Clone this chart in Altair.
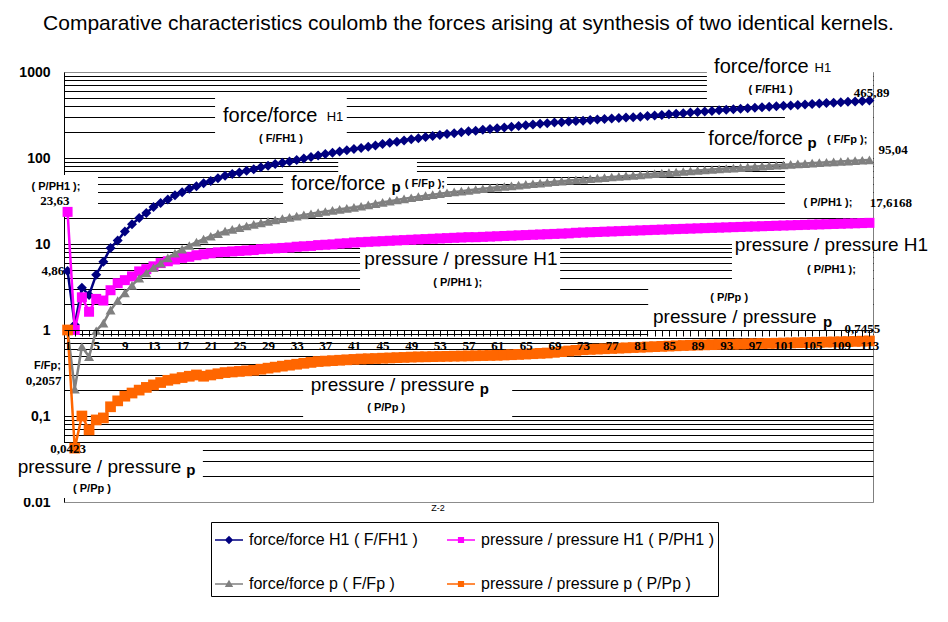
import altair as alt
import pandas as pd

# ---------------- data ----------------
z = list(range(1, 114))  # Z-2

f_fh1 = [4.86, 1.15, 3.1, 2.55, 4.4, 6.2, 9.0, 11, 14, 17,
         20, 23, 27, 30, 33, 37, 40, 44, 47, 51,
         54, 58, 62, 65, 68, 71, 74, 78, 81, 85,
         88, 91, 95, 99, 103, 107, 111, 115, 119, 123,
         127, 131, 135, 140, 145, 150, 155, 160, 165, 170,
         175, 180, 185, 190, 194, 199, 204, 208, 213, 218,
         222, 227, 231, 236, 241, 245, 250, 254, 258, 261,
         265, 269, 272, 276, 280, 284, 287, 291, 295, 298,
         302, 307, 312, 317, 322, 327, 332, 338, 343, 348,
         353, 358, 363, 368, 373, 378, 384, 389, 394, 399,
         404, 409, 414, 419, 425, 430, 435, 440, 445, 450,
         455, 460, 465.89]

p_ph1 = [23.63, 1.0, 2.4, 1.63, 2.3, 2.2, 2.9, 3.5, 3.8, 4.2,
         4.8, 5.1, 5.5, 6.0, 6.3, 6.6, 6.9, 7.1, 7.4, 7.6,
         7.8, 8.0, 8.1, 8.2, 8.3, 8.4, 8.5, 8.7, 8.8, 8.9,
         9.0, 9.1, 9.3, 9.4, 9.5, 9.7, 9.8, 9.9, 10.1, 10.2,
         10.4, 10.5, 10.6, 10.7, 10.8, 10.9, 11.0, 11.1, 11.2, 11.3,
         11.4, 11.5, 11.6, 11.7, 11.8, 11.9, 12.0, 12.0, 12.1, 12.2,
         12.3, 12.4, 12.5, 12.6, 12.7, 12.8, 12.9, 13.0, 13.1, 13.2,
         13.3, 13.5, 13.6, 13.7, 13.8, 13.9, 14.0, 14.1, 14.2, 14.3,
         14.4, 14.5, 14.6, 14.7, 14.8, 14.9, 15.0, 15.1, 15.2, 15.3,
         15.4, 15.5, 15.6, 15.7, 15.8, 15.9, 16.0, 16.1, 16.2, 16.3,
         16.4, 16.5, 16.6, 16.7, 16.8, 16.9, 17.0, 17.1, 17.2, 17.3,
         17.4, 17.5, 17.6168]

f_fp = [1.0, 0.2057, 0.64, 0.49, 0.98, 1.2, 1.7, 2.2, 2.7, 3.3,
        4.0, 4.6, 5.3, 6.0, 6.9, 7.8, 8.7, 9.6, 10.5, 11.4,
        12.3, 13.2, 14.1, 14.8, 15.5, 16.2, 16.9, 17.6, 18.3, 19.0,
        19.7, 20.4, 21.1, 21.8, 22.5, 23.2, 23.9, 24.6, 25.3, 26.0,
        26.7, 27.5, 28.5, 29.5, 30.5, 31.5, 32.5, 33.5, 34.5, 35.5,
        36.5, 37.5, 38.5, 39.4, 40.3, 41.2, 42.1, 43.0, 43.9, 44.8,
        45.7, 46.6, 47.5, 48.4, 49.3, 50.2, 51.1, 52.0, 52.9, 53.8,
        54.7, 55.6, 56.5, 57.4, 58.3, 59.2, 60.1, 61.0, 61.9, 62.8,
        63.7, 64.7, 65.7, 66.6, 67.6, 68.6, 69.6, 70.6, 71.5, 72.5,
        73.5, 74.5, 75.5, 76.4, 77.4, 78.4, 79.4, 80.4, 81.3, 82.3,
        83.3, 84.3, 85.3, 86.2, 87.2, 88.2, 89.2, 90.2, 91.1, 92.1,
        93.1, 94.1, 95.04]

p_pp = [1.0, 0.0423, 0.10, 0.069, 0.09, 0.095, 0.128, 0.15, 0.17, 0.185,
        0.20, 0.215, 0.23, 0.245, 0.26, 0.27, 0.28, 0.29, 0.30, 0.29,
        0.30, 0.31, 0.32, 0.325, 0.33, 0.335, 0.34, 0.35, 0.36, 0.37,
        0.38, 0.39, 0.40, 0.41, 0.42, 0.43, 0.435, 0.44, 0.445, 0.45,
        0.455, 0.46, 0.463, 0.466, 0.47, 0.473, 0.477, 0.48, 0.484, 0.487,
        0.488, 0.49, 0.492, 0.494, 0.496, 0.498, 0.50, 0.502, 0.504, 0.506,
        0.508, 0.512, 0.516, 0.52, 0.525, 0.53, 0.535, 0.54, 0.55, 0.56,
        0.57, 0.58, 0.59, 0.595, 0.60, 0.605, 0.61, 0.615, 0.62, 0.625,
        0.63, 0.635, 0.64, 0.645, 0.65, 0.655, 0.66, 0.664, 0.668, 0.672,
        0.675, 0.678, 0.681, 0.684, 0.687, 0.69, 0.693, 0.696, 0.699, 0.702,
        0.705, 0.708, 0.711, 0.714, 0.717, 0.72, 0.723, 0.726, 0.729, 0.733,
        0.737, 0.741, 0.7455]

series_names = ["force/force H1 ( F/FH1 )",
                "pressure / pressure H1 ( P/PH1 )",
                "force/force p ( F/Fp )",
                "pressure / pressure p ( P/Pp )"]
series_values = [f_fh1, p_ph1, f_fp, p_pp]
series_colors = ["#000080", "#FF00FF", "#808080", "#FF6600"]
series_shapes = ["diamond", "square", "triangle-up", "square"]
series_sizes = [100, 100, 100, 115]

y_decade_labels = ["0.01", "0,1", "1", "10", "100", "1000"]
x_label_every = 4

title_text = "Comparative characteristics coulomb the forces arising at synthesis of two identical kernels."

# annotation texts (data coordinates: Z-2 position, value)
ann_force_txt = ["force/force", "force/force", "force/force", "force/force"]
ann_force_x = [97.9, 97.1, 29.3, 38.8]
ann_force_y = [1153, 165, 308, 49.9]

ann_press_txt = ["pressure / pressure H1", "pressure / pressure H1",
                 "pressure / pressure", "pressure / pressure", "pressure / pressure"]
ann_press_x = [107.7, 55.95, 94.2, 46.4, 5.46]
ann_press_y = [9.73, 6.69, 1.416, 0.229, 0.0255]

ann_h1_txt = ["H1", "H1"]
ann_h1_x = [106.5, 38.35]
ann_h1_y = [1113, 300]

ann_p_txt = ["p", "p", "p", "p", "p"]
ann_p_x = [105.0, 46.9, 107.15, 59.2, 18.2]
ann_p_y = [149, 46.0, 1.239, 0.206, 0.0236]

ann_small_txt = ["( F/FH1 )", "( F/FH1 )", "( F/Fp );", "( F/Fp );",
                 "( P/PH1 );", "( P/PH1 );", "( P/PH1 );", "( P/PH1 );",
                 "( P/Pp )", "( P/Pp )", "( P/Pp )", "F/Fp;"]
ann_small_x = [99.2, 30.8, 109.9, 50.9, -0.62, 107.2, 107.7, 55.5, 93.4, 45.5, 4.41, -1.8]
ann_small_y = [618, 166, 162, 49.9, 46.4, 29.7, 4.99, 3.52, 2.36, 0.125, 0.0143, 0.381]

ann_num_txt = ["465,89", "95,04", "17,6168", "23,63", "4,86", "0,2057", "0,0423", "0,7455"]
ann_num_x = [113.3, 116.3, 116.0, -0.76, -1.04, -2.36, 1.06, 112.0]
ann_num_y = [574, 124, 29.7, 31.9, 4.89, 0.257, 0.0415, 1.027]

axis_title_txt = ["Z-2"]
axis_title_x = [52.74]
axis_title_y = [0.00851]

# white label boxes that hide the grid behind the annotations
box_x = [90.3, 101.2, 90.0, 21.6, 38.8, 31.1, -0.76, 41.85, 93.8, 82.1, 33.9, -7.0]
box_x2 = [113.5, 113.5, 101.2, 40.0, 49.8, 54.0, 5.25, 69.8, 113.5, 113.5, 63.1, 19.9]
box_y = [1577, 472, 242, 499, 97.3, 61.7, 63.4, 9.4, 12.7, 3.6, 0.284, 0.0485]
box_y2 = [472, 21.7, 117, 131, 61.7, 28.4, 21.7, 2.77, 2.92, 0.82, 0.0948, 0.0111]

# ---------------- tables ----------------
rows = []
for name, vals in zip(series_names, series_values):
    for zi, v in zip(z, vals):
        rows.append({"z": zi, "v": v, "series": name})
df = pd.DataFrame(rows)

boxes = pd.DataFrame({"x": box_x, "x2": box_x2, "y": box_y, "y2": box_y2})


def ann(txt, xs_, ys_):
    return pd.DataFrame({"t": txt, "x": xs_, "y": ys_})


# ---------------- scales & axes ----------------
W, H = 809, 430
grid_vals = []
for e in range(-2, 3):
    for m in range(1, 10):
        grid_vals.append(round(m * 10 ** e, 6))
grid_vals.append(1000)

ylab_expr = ("datum.value == 1000 ? '%s' : datum.value == 100 ? '%s' : datum.value == 10 ? '%s' : "
             "datum.value == 1 ? '%s' : abs(datum.value - 0.1) < 1e-9 ? '%s' : "
             "abs(datum.value - 0.01) < 1e-9 ? '%s' : ''") % (
    y_decade_labels[5], y_decade_labels[4], y_decade_labels[3],
    y_decade_labels[2], y_decade_labels[1], y_decade_labels[0])

xs = alt.Scale(domain=[0.5, 113.5], nice=False, zero=False)
ys = alt.Scale(type="log", domain=[0.01, 1000], nice=False)
cs = alt.Scale(domain=series_names, range=series_colors)

x_axis = alt.Axis(values=z, labelExpr="(datum.value - 1) %% %d == 0 ? datum.label : ''" % x_label_every,
                  labelOverlap=False, labelFlush=False, labelFont="Liberation Serif",
                  labelFontWeight="bold", labelFontSize=13, labelColor="black", labelPadding=3,
                  tickSize=6, tickColor="black", domainColor="black", domainWidth=1,
                  grid=False, title=None, offset=-H * 2 / 5, zindex=1)
y_axis = alt.Axis(values=grid_vals, labelExpr=ylab_expr, grid=True,
                  gridColor={"condition": {"test": "datum.value >= 999 || datum.value <= 0.0101",
                                           "value": "#8c8c8c"}, "value": "black"},
                  gridWidth=1, gridOpacity=1, ticks=False, domainColor="black",
                  labelFont="Liberation Sans", labelFontWeight="bold", labelFontSize=14,
                  labelColor="black", labelPadding=14, labelOverlap=False, title=None)

X = alt.X("x:Q", scale=xs, axis=x_axis)
Y = alt.Y("y:Q", scale=ys, axis=y_axis)

layers = []

layers.append(alt.Chart(boxes).mark_rect(color="white", strokeWidth=0).encode(
    x=X, x2="x2:Q", y=Y, y2="y2:Q"))

for name, color, shape, size in zip(series_names, series_colors, series_shapes, series_sizes):
    base = alt.Chart(df).transform_filter(alt.datum.series == name)
    enc = dict(x=alt.X("z:Q", scale=xs, axis=x_axis), y=alt.Y("v:Q", scale=ys, axis=y_axis))
    layers.append(base.mark_line(strokeWidth=2.5, color=color).encode(**enc))
    layers.append(base.mark_point(shape=shape, size=size, filled=True, opacity=1,
                                  color=color).encode(**enc))

text_styles = [
    (ann(ann_force_txt, ann_force_x, ann_force_y), "Liberation Sans", 20, "normal"),
    (ann(ann_press_txt, ann_press_x, ann_press_y), "Liberation Sans", 19, "normal"),
    (ann(ann_h1_txt, ann_h1_x, ann_h1_y), "Liberation Sans", 13, "normal"),
    (ann(ann_p_txt, ann_p_x, ann_p_y), "Liberation Sans", 15, "bold"),
    (ann(ann_small_txt, ann_small_x, ann_small_y), "Liberation Sans", 11, "bold"),
    (ann(ann_num_txt, ann_num_x, ann_num_y), "Liberation Serif", 13, "bold"),
    (ann(axis_title_txt, axis_title_x, axis_title_y), "Liberation Sans", 9, "normal"),
]
for tdf, font, fsize, fweight in text_styles:
    layers.append(alt.Chart(tdf).mark_text(font=font, fontSize=fsize, fontWeight=fweight,
                                           align="center", baseline="middle", color="black").encode(
        x=X, y=Y, text="t:N"))

# legend-only layer (invisible points) carrying line+marker legend symbols
line_path = "M-1,-0.06L1,-0.06L1,0.06L-1,0.06Z"
legend_paths = [line_path + "M0,-0.3L0.3,0L0,0.3L-0.3,0Z",
                line_path + "M-0.22,-0.22L0.22,-0.22L0.22,0.22L-0.22,0.22Z",
                line_path + "M0,-0.3L0.3,0.22L-0.3,0.22Z",
                line_path + "M-0.22,-0.22L0.22,-0.22L0.22,0.22L-0.22,0.22Z"]
leg = alt.Legend(title=None, orient="none", legendX=147, legendY=450, columns=2,
                 direction="horizontal",
                 labelFont="Liberation Sans", labelFontSize=16, labelColor="black", labelLimit=400,
                 symbolSize=784, symbolStrokeWidth=0, symbolOpacity=1, labelOffset=6,
                 strokeColor="black", fillColor="white", padding=4, rowPadding=22,
                 columnPadding=29)
layers.append(alt.Chart(df).mark_point(filled=True, opacity=0).encode(
    x=alt.X("z:Q", scale=xs, axis=x_axis), y=alt.Y("v:Q", scale=ys, axis=y_axis),
    color=alt.Color("series:N", scale=cs, legend=leg),
    shape=alt.Shape("series:N", scale=alt.Scale(domain=series_names, range=legend_paths), legend=leg)))

chart = alt.layer(*layers).properties(
    width=W, height=H,
    title=alt.TitleParams(title_text, font="Liberation Sans", fontSize=21, fontWeight="normal",
                          anchor="middle", color="black", offset=21),
    autosize=alt.AutoSizeParams(type="none"),
    padding={"left": 56, "top": 64, "right": 67, "bottom": 110},
).configure_view(stroke="#7f7f7f", strokeWidth=1)

chart.save("out.html", embed_options={"renderer": "svg", "actions": False})
